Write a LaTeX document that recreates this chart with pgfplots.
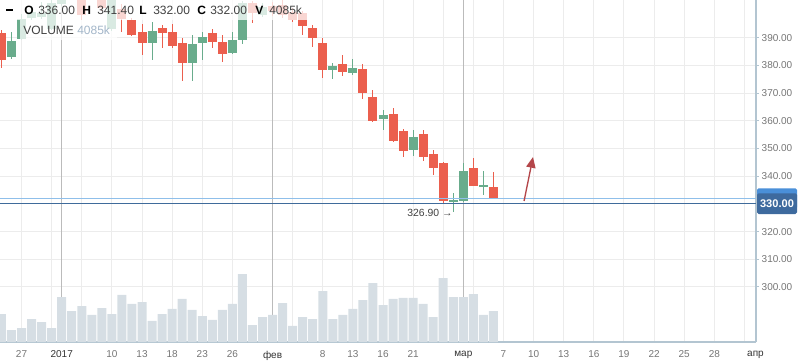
\documentclass[border=0pt]{standalone}
\usepackage{pgfplots}
\pgfplotsset{compat=1.18}
\usepackage{pgfplotstable}
\usepackage{fontspec}
\setmainfont{Liberation Sans}
\usetikzlibrary{arrows.meta}
\definecolor{candred}{HTML}{EB5F4E}
\definecolor{candgreen}{HTML}{69AC8C}
\definecolor{volcol}{HTML}{D6DEE4}
\definecolor{gridcol}{HTML}{ECECEC}
\definecolor{monthcol}{HTML}{BBBBBB}
\definecolor{axcol}{HTML}{B3C5D1}
\definecolor{ticklab}{HTML}{757575}
\definecolor{labdark}{HTML}{333333}
\definecolor{lineblue}{HTML}{8FBFEA}
\definecolor{darkblue}{HTML}{3F6B9B}
\definecolor{badgelight}{HTML}{4A8FD8}
\definecolor{badgedark}{HTML}{3E6A9E}
\definecolor{arrowred}{HTML}{B4464A}
\definecolor{legval}{HTML}{404040}
\definecolor{legvol}{HTML}{A3B6C9}

% candle data: k = trading-day index, o h l c
\pgfplotstableread{
k o h l c
1 391.7 392.8 379.1 382.0
8 407.0 409.0 403.8 404.5
9 406.0 407.0 396.4 398.2
11 406.0 407.0 399.5 400.7
13 400.4 402.2 392.1 396.7
14 396.4 397.1 390.6 391.0
15 392.1 394.9 383.8 388.1
17 393.5 394.6 386.3 391.7
18 392.1 394.9 386.3 387.0
19 388.1 389.9 374.4 380.9
22 391.7 393.1 386.3 388.4
23 388.4 391.0 381.2 384.1
26 402.5 403.4 395.3 398.9
28 401.5 403.0 398.0 399.5
29 401.8 403.5 397.0 398.2
30 399.3 400.7 395.7 396.4
31 398.9 399.6 391.0 394.2
32 393.5 394.6 386.6 389.9
33 388.1 389.9 375.4 378.3
35 380.5 383.8 376.2 377.6
37 378.7 380.5 367.9 370.0
38 368.6 371.1 359.6 359.9
40 362.5 364.6 352.3 352.7
41 356.3 357.0 346.9 349.1
43 355.2 356.7 345.5 346.9
44 348.0 349.5 340.4 343.0
45 344.8 345.0 330.3 331.0
48 343.0 346.6 336.3 336.5
50 336.0 341.4 332.0 332.0
}\redtab

\pgfplotstableread{
k o h l c
2 383.0 392.1 382.3 388.8
3 389.5 398.6 389.2 396.7
4 397.1 401.4 396.4 399.3
5 397.5 402.9 396.7 398.9
6 393.1 403.5 392.8 402.5
7 402.0 408.0 401.5 406.5
10 404.5 408.0 403.9 407.0
12 393.1 405.5 392.5 404.5
16 388.1 395.7 382.0 392.4
20 380.9 391.0 374.4 387.7
21 388.1 392.1 382.0 390.2
24 384.5 392.1 384.1 389.2
25 389.2 403.3 387.7 402.5
27 398.2 402.5 397.5 401.1
34 378.3 380.9 375.1 379.8
36 377.3 382.3 376.5 379.1
39 360.6 363.9 356.7 362.1
42 349.5 356.7 347.3 354.1
46 331.0 333.9 326.9 331.4
47 331.0 344.8 330.8 341.9
49 336.3 341.9 333.2 336.6
}\greentab

% volume in thousands
\pgfplotstableread{
k v
1 3690
2 1580
3 1845
4 3030
5 2635
6 1845
7 5930
8 4085
9 4745
10 3560
11 4480
12 3690
13 6195
14 5010
15 5270
16 2770
17 3690
18 4350
19 5670
20 4220
21 3425
22 2900
23 4220
24 5010
25 8960
26 2240
27 3295
28 3560
29 5140
30 2110
31 3295
32 3030
33 6720
34 3030
35 3560
36 4350
37 5535
38 7775
39 4875
40 5670
41 5800
42 5800
43 5010
44 3295
45 8435
46 5930
47 5930
48 6325
49 3560
50 4085
}\voltab

\begin{document}
\begin{tikzpicture}
\useasboundingbox (0,0) rectangle (598.5pt,-272.25pt);
\begin{axis}[
  at={(0,0)}, anchor=north west,
  scale only axis, width=567pt, height=256.5pt,
  xmin=0.855, xmax=76.15, ymin=280.14, ymax=403.6,
  axis x line*=bottom, axis y line*=right,
  axis line style={draw=axcol, line width=0.9pt},
  xtick={3,6,9,12,15,18,21,24,30,33,36,39,42,45,48,51,54,57,60,63,66,69,72,75,76.1},
  xticklabels={27,,,10,13,18,23,26,,8,13,16,21,,,7,10,13,16,19,22,25,28,,{\color{labdark}апр}},
  extra x ticks={7,28,47},
  extra x tick labels={{\color{labdark}2017},{\color{labdark}фев},{\color{labdark}мар}},
  extra x tick style={grid=major, major grid style={draw=monthcol, line width=0.75pt}, xtick style={draw=none}},
  ytick={300,310,320,330,340,350,360,370,380,390},
  yticklabels={300.00,310.00,320.00,330.00,340.00,350.00,360.00,370.00,380.00,390.00},
  grid=major,
  major grid style={draw=gridcol, line width=0.75pt},
  xtick style={draw=none},
  ytick style={draw=axcol, line width=0.75pt},
  tick align=outside, major tick length=2.25pt,
  xticklabel style={font=\fontsize{7.5}{9}\selectfont, text=ticklab, yshift=-0.8pt},
  yticklabel style={font=\fontsize{7.5}{9}\selectfont, text=ticklab, xshift=-1.5pt},
]
% volume bars (drawn in price coordinates, bottom clipped at the axis)
\addplot[ybar, bar width=6.75pt, bar shift=0pt, fill=volcol, draw=none]
  table[x=k, y expr={280.14+\thisrow{v}/365.1}] {\voltab};
% wicks
\addplot[draw=none, mark=none,
  error bars/.cd, y dir=both, y explicit, error mark=none,
  error bar style={line width=0.75pt, draw=candred, line cap=butt}]
  table[x=k, y expr={(\thisrow{h}+\thisrow{l})/2}, y error expr={(\thisrow{h}-\thisrow{l})/2}] {\redtab};
\addplot[draw=none, mark=none,
  error bars/.cd, y dir=both, y explicit, error mark=none,
  error bar style={line width=0.75pt, draw=candgreen, line cap=butt}]
  table[x=k, y expr={(\thisrow{h}+\thisrow{l})/2}, y error expr={(\thisrow{h}-\thisrow{l})/2}] {\greentab};
% bodies
\addplot[draw=none, mark=none,
  error bars/.cd, y dir=both, y explicit, error mark=none,
  error bar style={line width=6.75pt, draw=candred, line cap=butt}]
  table[x=k, y expr={(\thisrow{o}+\thisrow{c})/2}, y error expr={max(abs(\thisrow{o}-\thisrow{c})/2,0.3)}] {\redtab};
\addplot[draw=none, mark=none,
  error bars/.cd, y dir=both, y explicit, error mark=none,
  error bar style={line width=6.75pt, draw=candgreen, line cap=butt}]
  table[x=k, y expr={(\thisrow{o}+\thisrow{c})/2}, y error expr={max(abs(\thisrow{o}-\thisrow{c})/2,0.3)}] {\greentab};
% price lines
\addplot[lineblue, line width=0.8pt] coordinates {(0.855,332.0) (76.15,332.0)};
\addplot[darkblue, line width=0.8pt] coordinates {(0.855,330.0) (76.15,330.0)};
% annotations
\draw[arrowred, line width=1pt, -{Triangle[width=7pt,length=8pt]}] (axis cs:53.05,331.05) -- (axis cs:53.94,346.9);
\node[anchor=east, inner sep=0pt, font=\fontsize{7.8}{9}\selectfont, text=legval] at (axis cs:45.95,326.6) {326.90 →};
\end{axis}
% top frame line
\draw[axcol, line width=0.75pt] (0,0) -- (567pt,0);
% legend backgrounds
\fill[white, opacity=0.75] (0,0) rectangle (234pt,-15pt);
\fill[white, opacity=0.75] (15pt,-15pt) rectangle (87.75pt,-30pt);
% legend text
\draw[black, line width=1.6pt] (4.5pt,-7.7pt) -- (9.75pt,-7.7pt);
\begin{scope}[every node/.style={inner sep=0pt, anchor=base west, font=\fontsize{9}{11}\selectfont}]
\node[text=black, font=\fontsize{9}{11}\selectfont\bfseries] at (18pt,-11.25pt) {O};
\node[text=legval] at (28.5pt,-11.25pt) {336.00};
\node[text=black, font=\fontsize{9}{11}\selectfont\bfseries] at (61.5pt,-11.25pt) {H};
\node[text=legval] at (72.75pt,-11.25pt) {341.40};
\node[text=black, font=\fontsize{9}{11}\selectfont\bfseries] at (104.25pt,-11.25pt) {L};
\node[text=legval] at (114.75pt,-11.25pt) {332.00};
\node[text=black, font=\fontsize{9}{11}\selectfont\bfseries] at (147.75pt,-11.25pt) {C};
\node[text=legval] at (157.5pt,-11.25pt) {332.00};
\node[text=black, font=\fontsize{9}{11}\selectfont\bfseries] at (191.25pt,-11.25pt) {V};
\node[text=legval] at (201.75pt,-11.25pt) {4085k};
\node[text=legval] at (17.25pt,-26.25pt) {VOLUME};
\node[text=legvol] at (57.75pt,-26.25pt) {4085k};
\end{scope}
% price badges
\fill[badgelight, rounded corners=1.2pt] (567.75pt,-141.2pt) rectangle (597.75pt,-156.8pt);
\fill[badgedark, rounded corners=1.2pt] (567.75pt,-145pt) rectangle (597.75pt,-160.5pt);
\node[text=white, inner sep=0pt, font=\fontsize{8.3}{10}\selectfont\bfseries] at (582.75pt,-152.8pt) {330.00};
\end{tikzpicture}
\end{document}
